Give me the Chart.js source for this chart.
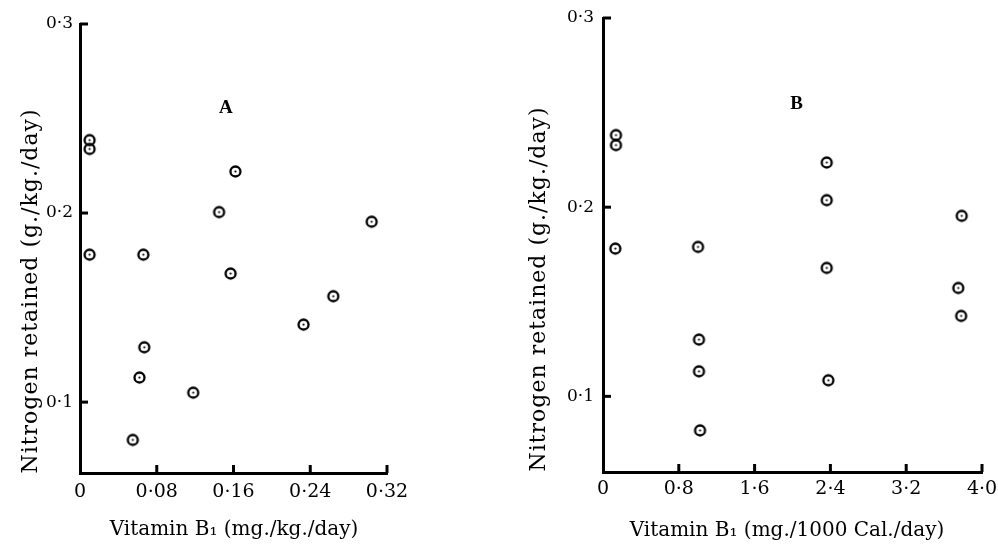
<!DOCTYPE html>
<html><head><meta charset="utf-8">
<script src="https://cdn.jsdelivr.net/npm/chart.js@4.4.1/dist/chart.umd.min.js"></script>
<style>
html,body{margin:0;padding:0;background:#fff;overflow:hidden;}
#wrap{position:relative;width:998px;height:544px;background:#fff;}
canvas{position:absolute;top:0;}
#cA{left:0;} #cB{left:499px;}
</style></head><body>
<div id="wrap"><canvas id="cA" width="499" height="544"></canvas><canvas id="cB" width="499" height="544"></canvas></div>
<script>
// ---- Panel A: Vitamin B1 (mg./kg./day) vs nitrogen retained ----
const xA = [0.010, 0.010, 0.010, 0.066, 0.145, 0.162, 0.157, 0.304, 0.264, 0.233, 0.067, 0.062, 0.118, 0.055];
const yA = [0.2386, 0.2339, 0.178, 0.178, 0.2005, 0.222, 0.168, 0.1954, 0.156, 0.141, 0.129, 0.113, 0.105, 0.080];
const xTicksA = [0, 0.08, 0.16, 0.24, 0.32];
const xTickLabelsA = ['0', '0·08', '0·16', '0·24', '0·32'];

// ---- Panel B: Vitamin B1 (mg./1000 Cal./day) vs nitrogen retained ----
const xB = [0.137, 0.137, 0.130, 1.003, 2.361, 2.361, 2.361, 3.786, 3.750, 3.780, 1.013, 1.013, 1.024, 2.378];
const yB = [0.2381, 0.2328, 0.1781, 0.179, 0.2236, 0.2037, 0.1679, 0.1954, 0.1573, 0.1425, 0.130, 0.1132, 0.082, 0.1085];
const xTicksB = [0, 0.8, 1.6, 2.4, 3.2, 4.0];
const xTickLabelsB = ['0', '0·8', '1·6', '2·4', '3·2', '4·0'];

// ---- shared y axis ----
const yTicks = [0.1, 0.2, 0.3];
const yTickLabels = ['0·1', '0·2', '0·3'];

const yTitle = 'Nitrogen retained (g./kg./day)';
const xTitleA = 'Vitamin B₁ (mg./kg./day)';
const xTitleB = 'Vitamin B₁ (mg./1000 Cal./day)';
const panelLetterA = {label: 'A', x: 0.152, y: 0.253};
const panelLetterB = {label: 'B', x: 2.044, y: 0.252};

function marker() {
  const c = document.createElement('canvas');
  c.width = 15; c.height = 15;
  const g = c.getContext('2d');
  g.strokeStyle = '#000'; g.lineWidth = 2.3;
  g.beginPath(); g.arc(7.5, 7.5, 5, 0, Math.PI * 2); g.stroke();
  g.fillStyle = '#000';
  g.beginPath(); g.arc(7.5, 7.5, 1.1, 0, Math.PI * 2); g.fill();
  return c;
}
const mk = marker();

const deco = {
  id: 'deco',
  afterDraw(chart, args, o) {
    const ctx = chart.ctx, xs = chart.scales.x, ys = chart.scales.y, ca = chart.chartArea;
    ctx.save();
    ctx.strokeStyle = '#000'; ctx.lineWidth = 3; ctx.lineCap = 'butt';
    o.xTicks.forEach(v => {
      if (v <= 0) return;
      const px = xs.getPixelForValue(v);
      ctx.beginPath(); ctx.moveTo(px, ca.bottom); ctx.lineTo(px, ca.bottom - 8); ctx.stroke();
    });
    o.yTicks.forEach(v => {
      const py = ys.getPixelForValue(v);
      ctx.beginPath(); ctx.moveTo(ca.left, py); ctx.lineTo(ca.left + 8, py); ctx.stroke();
    });
    ctx.fillStyle = '#000';
    // panel letter
    ctx.font = 'bold 19px "Liberation Serif"';
    ctx.textAlign = 'center'; ctx.textBaseline = 'alphabetic';
    ctx.fillText(o.letter.label, xs.getPixelForValue(o.letter.x), ys.getPixelForValue(o.letter.y));
    // x title
    ctx.font = '20px "DejaVu Serif"';
    ctx.fillText(o.xTitle, o.xTitleX, o.xTitleY);
    // y title
    ctx.save();
    ctx.translate(o.yTitleX, o.yTitleY);
    ctx.rotate(-Math.PI / 2);
    ctx.font = '22px "DejaVu Serif"';
    try { ctx.letterSpacing = '1px'; } catch (e) {}
    ctx.textAlign = 'center'; ctx.textBaseline = 'alphabetic';
    ctx.fillText(yTitle, 0, 0);
    ctx.restore();
    ctx.restore();
  }
};

function makeChart(id, xs, ys, xTicks, xLabels, cfg) {
  const data = xs.map((x, i) => ({x: x, y: ys[i]}));
  return new Chart(document.getElementById(id), {
    type: 'scatter',
    data: {datasets: [{data: data, pointStyle: mk, pointRadius: 6, pointHoverRadius: 6}]},
    options: {
      responsive: false, animation: false, events: [],
      layout: {padding: {top: cfg.top, right: cfg.right, left: 0, bottom: 0}},
      plugins: {
        legend: {display: false}, tooltip: {enabled: false},
        deco: {
          xTicks: xTicks, yTicks: yTicks, letter: cfg.letter,
          xTitle: cfg.xTitle, xTitleX: cfg.xTitleX, xTitleY: cfg.xTitleY,
          yTitleX: cfg.yTitleX, yTitleY: cfg.yTitleY
        }
      },
      scales: {
        x: {
          type: 'linear', min: 0, max: cfg.xmax,
          afterBuildTicks: s => { s.ticks = xTicks.map(v => ({value: v})); },
          afterFit: s => { s.height = cfg.xh; s.paddingLeft = 0; s.paddingRight = 0; },
          grid: {display: false, drawTicks: false},
          border: {display: true, color: '#000', width: 3},
          ticks: {autoSkip: false, maxRotation: 0, padding: cfg.xpad, color: '#000',
                  font: {family: 'DejaVu Serif', size: 19},
                  callback: (v, i) => xLabels[i]}
        },
        y: {
          type: 'linear', min: cfg.ymin, max: 0.3,
          afterBuildTicks: s => { s.ticks = yTicks.map(v => ({value: v})); },
          afterFit: s => { s.width = cfg.yw; s.paddingTop = 0; s.paddingBottom = 0; },
          grid: {display: false, drawTicks: false},
          border: {display: true, color: '#000', width: 3},
          ticks: {autoSkip: false, padding: cfg.ypad, color: '#000',
                  font: {family: 'DejaVu Serif', size: 17},
                  callback: (v, i) => yTickLabels[i]}
        }
      }
    },
    plugins: [deco]
  });
}

makeChart('cA', xA, yA, xTicksA, xTickLabelsA, {
  top: 24, right: 112, yw: 80, xh: 71, ymin: 0.0625, xmax: 0.32, xpad: 8, ypad: 7,
  letter: panelLetterA, xTitle: xTitleA, xTitleX: 234, xTitleY: 535, yTitleX: 37, yTitleY: 291
});
makeChart('cB', xB, yB, xTicksB, xTickLabelsB, {
  top: 18, right: 16, yw: 104, xh: 72, ymin: 0.06, xmax: 4.0, xpad: 6, ypad: 9,
  letter: panelLetterB, xTitle: xTitleB, xTitleX: 288, xTitleY: 536, yTitleX: 46, yTitleY: 289
});
</script>
</body></html>
